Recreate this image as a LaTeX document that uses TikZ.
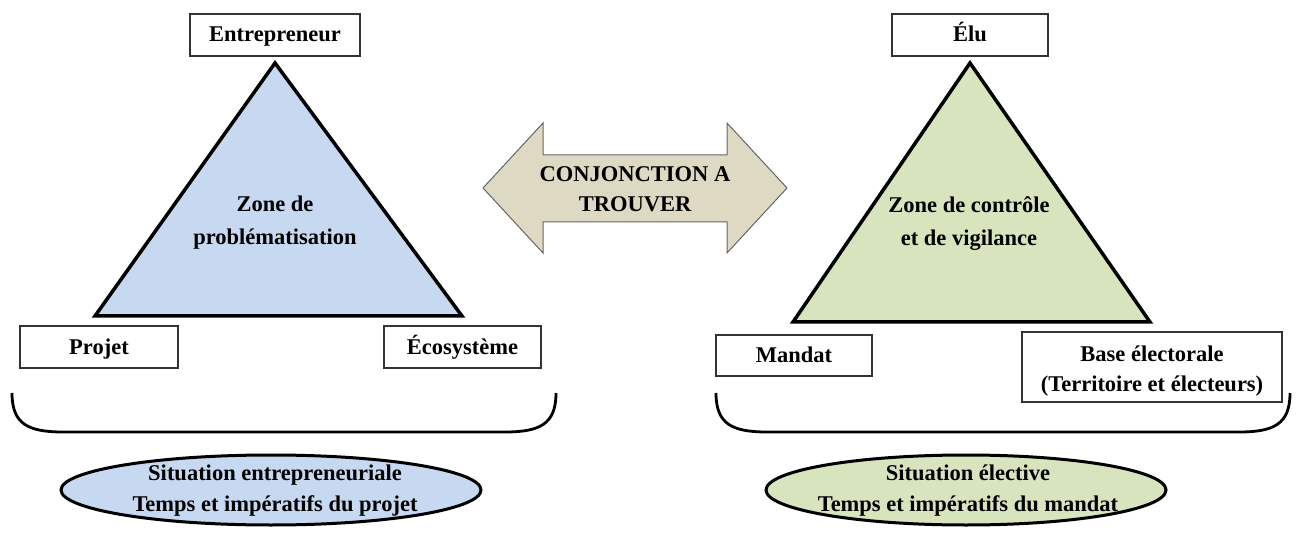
\documentclass[tikz,border=0pt]{standalone}
\usepackage{fontspec}
\setmainfont{Liberation Serif}
\usetikzlibrary{shapes.geometric}
\definecolor{lblue}{HTML}{C6D9F1}
\definecolor{lgreen}{HTML}{D7E4BD}
\definecolor{tanfill}{HTML}{DDD9C3}
\begin{document}
\begin{tikzpicture}[x=1pt,y=-1pt,
  txt/.style={font=\bfseries\fontsize{22.5}{33}\selectfont, align=center, inner sep=0pt},
  labelbox/.style={draw=black!80, line width=1.2pt, txt, fill=white},
  oneline/.style={text height=17pt, text depth=3pt},
  tri/.style={draw=black, line width=3.5pt, line join=miter},
  oval/.style={ellipse, draw=black, line width=3pt, inner sep=0pt},
  ovaltxt/.style={txt, font=\bfseries\fontsize{22.5}{31}\selectfont},
  bracket/.style={draw=black, line width=2.8pt},
  dblarrow/.style={draw=black!60, line width=1pt, fill=tanfill, line join=miter}
]
\useasboundingbox (0,0) rectangle (1300,534);

% ---------- left triangle ----------
\coordinate (LA) at (275,63);
\coordinate (LB) at (95,316);
\coordinate (LC) at (462,316);
\draw[tri, fill=lblue] (LA) -- (LB) -- (LC) -- cycle;
\node[txt] (lzone) at (275,223) {Zone de\\problématisation};

\node[labelbox, oneline, minimum width=170pt, minimum height=42pt] (entr) at (275,35) {Entrepreneur};
\node[labelbox, oneline, minimum width=158pt, minimum height=42pt] (projet) at (99,347) {Projet};
\node[labelbox, oneline, minimum width=157pt, minimum height=42pt] (eco) at (462.5,347) {Écosystème};

\coordinate (LBr1) at (12,393);
\coordinate (LBr2) at (556,393);
\draw[bracket] (LBr1) .. controls (12,424) and (28,432) .. (63,432) -- (505,432) .. controls (540,432) and (556,424) .. (LBr2);

\node[oval, fill=lblue, minimum width=420pt, minimum height=70pt] (lsit) at (271,490) {};
\node[ovaltxt] (lsittxt) at (275,491) {Situation entrepreneuriale\\Temps et impératifs du projet};

% ---------- middle double arrow ----------
\draw[dblarrow] (483,188) -- (543,123) -- (543,155) -- (727,155) -- (727,123) -- (787,188)
  -- (727,253) -- (727,222) -- (543,222) -- (543,253) -- cycle;
\node[txt, font=\bfseries\fontsize{22.5}{30}\selectfont] (conj) at (635,189) {CONJONCTION A\\TROUVER};

% ---------- right triangle ----------
\coordinate (RA) at (970,63);
\coordinate (RB) at (793,322);
\coordinate (RC) at (1150,322);
\draw[tri, fill=lgreen] (RA) -- (RB) -- (RC) -- cycle;
\node[txt] (rzone) at (969,224) {Zone de contrôle\\et de vigilance};

\node[labelbox, oneline, minimum width=156pt, minimum height=42pt] (elu) at (970,35) {Élu};
\node[labelbox, oneline, minimum width=156pt, minimum height=41pt] (mandat) at (794,355.5) {Mandat};
\node[draw=black!80, line width=1.2pt, fill=white, minimum width=260pt, minimum height=70pt] (base) at (1152,367) {};
\node[txt, font=\bfseries\fontsize{22.5}{30}\selectfont] (basetxt) at (1152,371) {Base électorale\\(Territoire et électeurs)};

\coordinate (RBr1) at (716,393);
\coordinate (RBr2) at (1290,393);
\draw[bracket] (RBr1) .. controls (716,424) and (732,432) .. (767,432) -- (1239,432) .. controls (1274,432) and (1290,424) .. (RBr2);

\node[oval, fill=lgreen, minimum width=400pt, minimum height=70pt] (rsit) at (966,490) {};
\node[ovaltxt] (rsittxt) at (968,491) {Situation élective\\Temps et impératifs du mandat};
\end{tikzpicture}
\end{document}
